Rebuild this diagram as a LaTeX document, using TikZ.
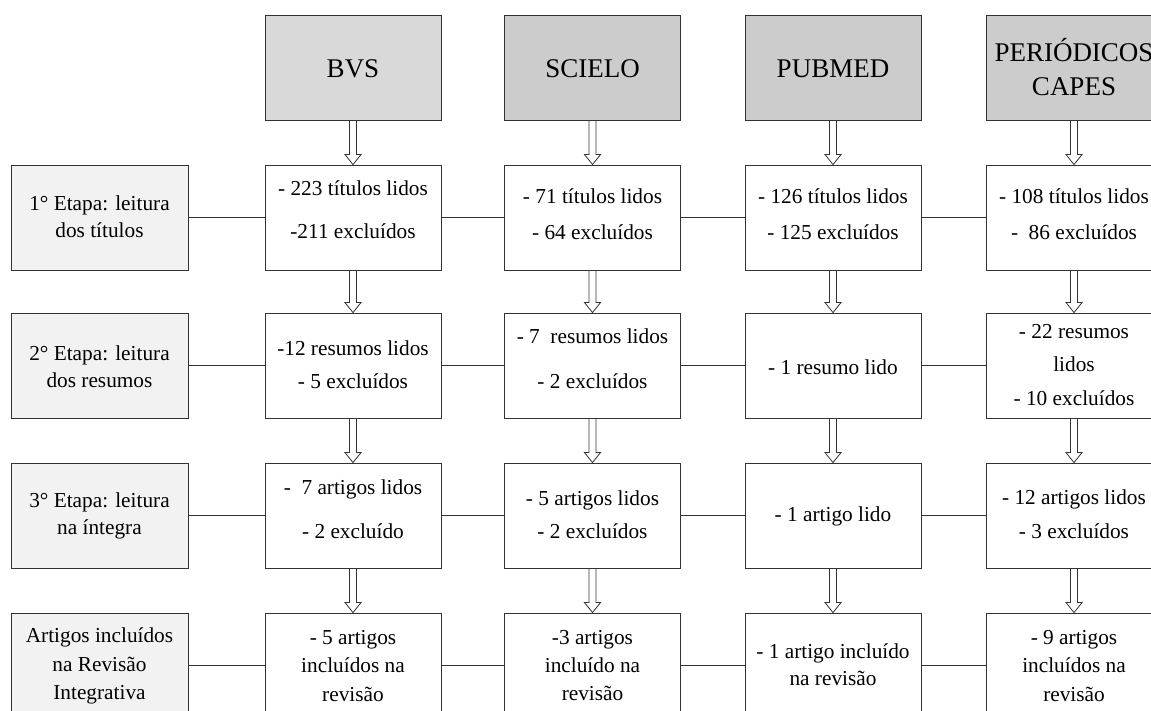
\documentclass[tikz,border=0pt]{standalone}
\usepackage{fontspec}
\setmainfont{Liberation Serif}
\usetikzlibrary{calc}
\definecolor{linec}{HTML}{333333}
\definecolor{bvsfill}{HTML}{D9D9D9}
\definecolor{dbfill}{HTML}{CCCCCC}
\definecolor{stagefill}{HTML}{F2F2F2}
\begin{document}
\begin{tikzpicture}[x=1pt,y=-1pt,
  box/.style={draw=linec, line width=0.9pt, minimum width=176pt, minimum height=105pt, inner sep=0pt, fill=white},
  topbox/.style={box, fill=dbfill},
  stagebox/.style={box, fill=stagefill, minimum width=177pt},
  txt/.style={align=center, inner sep=0pt, font=\fontsize{21.3}{27}\selectfont},
  ttxt/.style={align=center, inner sep=0pt, font=\fontsize{27}{30}\selectfont},
  link/.style={draw=linec, line width=0.9pt},
  hollow/.style={draw=linec, line width=0.8pt, line join=miter,
    to path={let \p1=(\tikztostart), \p2=(\tikztotarget) in
      (\x1-3.5pt,\y1) -- (\x1-3.5pt,\y2+10pt) -- (\x1-8pt,\y2+10pt) -- (\x1,\y2)
      -- (\x1+8pt,\y2+10pt) -- (\x1+3.5pt,\y2+10pt) -- (\x1+3.5pt,\y1)}}
]
\useasboundingbox (0,0) rectangle (1151,710);
\fill[white] (0,0) rectangle (1151,710);
\clip (0,0) rectangle (1151,710);

% top database boxes
\node[topbox, fill=bvsfill] (bvs) at (353,67.5) {};
\node[topbox] (scielo) at (592.5,67.5) {};
\node[topbox] (pubmed) at (833,67.5) {};
\node[topbox] (capes) at (1074,67.5) {};

% stage boxes
\node[stagebox] (s1) at (99.5,217.5) {};
\node[stagebox] (s2) at (99.5,365.5) {};
\node[stagebox] (s3) at (99.5,515.5) {};
\node[stagebox] (s4) at (99.5,665.5) {};

% grid boxes
\foreach \c/\x in {1/353,2/592.5,3/833,4/1074}{
  \node[box] (b\c1) at (\x,217.5) {};
  \node[box] (b\c2) at (\x,365.5) {};
  \node[box] (b\c3) at (\x,515.5) {};
  \node[box] (b\c4) at (\x,665.5) {};
}

% horizontal links
\foreach \r in {1,2,3,4}{
  \draw[link] (s\r.east) -- (b1\r.west);
  \draw[link] (b1\r.east) -- (b2\r.west);
  \draw[link] (b2\r.east) -- (b3\r.west);
  \draw[link] (b3\r.east) -- (b4\r.west);
}

% hollow arrows
\foreach \t/\c in {bvs/1,scielo/2,pubmed/3,capes/4}{
  \draw[hollow] (\t.south) to (b\c1.north);
  \draw[hollow] (b\c1.south) to (b\c2.north);
  \draw[hollow] (b\c2.south) to (b\c3.north);
  \draw[hollow] (b\c3.south) to (b\c4.north);
}

% top labels
\node[ttxt] (tbvs) at ($(bvs)+(0,1.5)$) {BVS};
\node[ttxt] (tscielo) at ($(scielo)+(0,1.5)$) {SCIELO};
\node[ttxt] (tpubmed) at ($(pubmed)+(0,1.5)$) {PUBMED};
\node[ttxt] (tcapes) at ($(capes)+(0,-0.5)$) {PERIÓDICOS\\[4pt]CAPES};

% stage labels
\node[txt] (ts1) at ($(s1)+(0,-1)$) {1° Etapa: leitura\\dos títulos};
\node[txt] (ts2) at ($(s2)+(0,1)$) {2° Etapa: leitura\\dos resumos};
\node[txt] (ts3) at ($(s3)+(0,0)$) {3° Etapa: leitura\\na íntegra};
\node[txt] (ts4) at ($(s4)+(0,0.5)$) {Artigos incluídos\\[1.5pt]na Revisão\\[1.5pt]Integrativa};

% BVS column
\node[txt] (tb11) at ($(b11)+(0,-8)$) {- 223 títulos lidos\\[16pt]-211 excluídos};
\node[txt] (tb12) at ($(b12)+(0,-1)$) {-12 resumos lidos\\[6pt]- 5 excluídos};
\node[txt] (tb13) at ($(b13)+(0,-6.5)$) {-\ \ 7 artigos lidos\\[17pt]- 2 excluído};
\node[txt] (tb14) at ($(b14)+(0,0.5)$) {- 5 artigos\\[1.5pt]incluídos na\\[1.5pt]revisão};

% SCIELO column
\node[txt] (tb21) at ($(b21)+(0,-3.5)$) {- 71 títulos lidos\\[9pt]- 64 excluídos};
\node[txt] (tb22) at ($(b22)+(0,-7)$) {- 7\ \ resumos lidos\\[18pt]- 2 excluídos};
\node[txt] (tb23) at ($(b23)+(0,-1)$) {- 5 artigos lidos\\[6pt]- 2 excluídos};
\node[txt] (tb24) at ($(b24)+(0,0)$) {-3 artigos\\[1pt]incluído na\\[1pt]revisão};

% PUBMED column
\node[txt] (tb31) at ($(b31)+(0,-3.5)$) {- 126 títulos lidos\\[9pt]- 125 excluídos};
\node[txt] (tb32) at ($(b32)+(0,1.5)$) {- 1 resumo lido};
\node[txt] (tb33) at ($(b33)+(0,1)$) {- 1 artigo lido};
\node[txt] (tb34) at ($(b34)+(0,-1)$) {- 1 artigo incluído\\na revisão};

% PERIODICOS CAPES column
\node[txt] (tb41) at ($(b41)+(0,-3.5)$) {- 108 títulos lidos\\[9pt]-\ \ 86 excluídos};
\node[txt] (tb42) at ($(b42)+(0,-0.5)$) {- 22 resumos\\[6.5pt]lidos\\[6.5pt]- 10 excluídos};
\node[txt] (tb43) at ($(b43)+(0,-1.5)$) {- 12 artigos lidos\\[7pt]- 3 excluídos};
\node[txt] (tb44) at ($(b44)+(0,0.5)$) {- 9 artigos\\[1.5pt]incluídos na\\[1.5pt]revisão};
\end{tikzpicture}
\end{document}
